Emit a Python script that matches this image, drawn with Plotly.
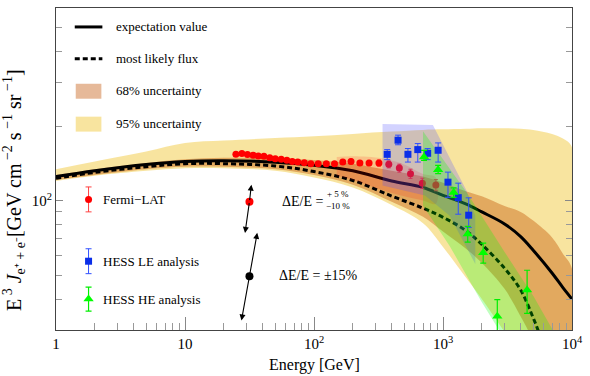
import math
import plotly.graph_objects as go

# ---------------- data ----------------
# model curves
expect_E = [1, 2, 5, 10, 20, 50, 100, 200, 400, 700, 1000, 1500, 2000, 3000, 4000, 5000, 7000, 8500, 10000]
expect_F = [125, 132, 140, 144, 145, 143, 139, 132, 120, 113, 105, 97, 90, 80.5, 71.5, 63, 51, 44.5, 40]

likely_E = [1, 2, 5, 10, 20, 50, 100, 200, 400, 700, 1000, 1500, 2000, 3000, 4000, 5000, 5500, 6000]
likely_F = [123, 130, 137, 141, 141, 138, 131, 120.6, 104.3, 93.2, 85.6, 75.7, 66.5, 53.3, 43.5, 33.6, 29.6, 26]

# 95% band
u95_E = [1, 2, 5, 10, 20, 50, 100, 200, 400, 700, 1000, 1500, 2000, 3000, 4000, 5000, 7000, 8500, 10000]
u95_F = [134, 144, 158, 171, 175, 179, 182, 186, 190, 193, 194, 195, 196, 196, 195, 193, 186, 178, 164]
l95_E = [1, 2, 5, 10, 20, 50, 100, 200, 400, 700, 1000, 1500, 2000, 3000, 4000, 10000]
l95_F = [120, 126, 132, 135, 135, 132, 124, 113, 96, 81, 65, 49, 40, 29.5, 24, 10]

# 68% band
u68_E = [1, 2, 5, 10, 20, 50, 100, 200, 400, 700, 1000, 1500, 2000, 3000, 4000, 5000, 7000, 8500, 10000]
u68_F = [127, 134, 142, 147, 149, 148, 146, 141, 132, 125, 118, 109, 104, 95, 90, 83, 71, 61, 53]
l68_E = [1, 2, 5, 10, 20, 50, 100, 200, 400, 700, 1000, 1500, 2000, 3000, 4000, 5000, 10000]
l68_F = [121, 127, 134, 137, 137, 134, 127, 116, 99, 86, 75, 64, 56, 44, 34, 27, 10]

# Fermi-LAT
fermi_E = [24.8, 27.6, 30.5, 33.7, 37.0, 40.9, 45.4, 50.1, 55.7, 61.6, 67.9, 74.8, 84.1, 94.5,
           107.7, 124.6, 144.2, 167.2, 193.6, 226.8, 267.2, 318.7, 379.9, 458.7, 559.8, 691.6, 880.4]
fermi_F = [153.8, 154.8, 153.4, 152.4, 151.4, 151.0, 149.1, 147.7, 146.8, 145.4, 144.0, 143.1, 142.3, 141.0,
           141.0, 141.0, 141.0, 143.1, 143.8, 141.8, 141.8, 141.8, 140.1, 135.3, 128.4, 117.6, 115.6]
fermi_err = [2, 2, 2, 2, 2, 2, 2, 2, 2, 2, 2, 2, 2, 2,
             2, 2.5, 2.5, 3, 3, 3, 3.5, 4, 4.5, 5, 5.5, 5.5, 6]

# Fermi systematic band
fband_E = [150, 200, 340, 500, 700, 880]
fband_hi = [150, 151, 148, 140, 128, 124]
fband_lo = [126, 121, 110, 104, 100, 97]

# HESS LE
hessle_E = [369.4, 448.3, 534.7, 637.6, 760.5, 916.7, 1093, 1313, 1582]
hessle_F = [153.8, 175.4, 153.8, 160.7, 155.3, 159.7, 118.7, 102.8, 87.3]
hessle_hi = [160.7, 183.8, 162.3, 170.0, 162.3, 171.0, 130.3, 117.6, 102.6]
hessle_lo = [146.4, 168.1, 143.1, 143.1, 146.4, 143.1, 103.1, 88.1, 77.9]
hessle_box_E = [340, 835, 1519, 1780, 1780, 1126, 725, 340]
hessle_box_F = [203.7, 201.8, 109.8, 86.9, 55.4, 86.9, 104.8, 115.1]

# HESS HE
hesshe_E = [712.6, 916.7, 1208.6, 1554.5, 2049.7, 2636, 4487]
hesshe_F = [150, 133.3, 107.8, 73.2, 61.6, 34.1, 43.5]
hesshe_hi = [159.6, 138.8, 112.6, 78.6, 67.3, 39.8, 52.3]
hesshe_lo = [145.4, 128.4, 103.1, 68.0, 55.9, 25, 35.0]
hesshe_box_E = [700, 1546, 2967, 5031, 7957, 3073, 1979, 1126, 700]
hesshe_box_F = [190.8, 106.8, 62.6, 41.1, 27, 27, 39.2, 65.6, 95.4]

# energy-scale arrows
arrow_E = [31.6, 31.6]
arrow_F = [99, 49.5]
arrow_top_E = [32.7, 36.3]
arrow_top_F = [116, 74.1]
arrow_bot_E = [29.2, 27.4]
arrow_bot_F = [74, 32.8]

x_ticks = [1, 10, 100, 1000, 10000]
x_ticktext = ["1", "10", "10<sup>2</sup>", "10<sup>3</sup>", "10<sup>4</sup>"]
y_ticks = [100]
y_ticktext = ["10<sup>2</sup>"]

# ---------------- styling ----------------
FONT = "Liberation Serif"
C95 = "rgba(242,205,80,0.55)"
C68 = "rgba(192,80,0,0.40)"
CFB = "rgba(255,0,0,0.15)"
CLE = "rgba(80,80,255,0.25)"
CHE = "rgba(0,255,0,0.25)"

L, R, T, B = 56, 579, 7, 330
W, H = 590, 376


def px(x):
    return (x - L) / (R - L)


def py(y):
    return (B - y) / (B - T)


fig = go.Figure()


def band(eu, fu, el, fl, color):
    return go.Scatter(x=list(eu) + list(el)[::-1], y=list(fu) + list(fl)[::-1],
                      fill="toself", fillcolor=color, line=dict(width=0, shape="spline"),
                      mode="lines", hoverinfo="skip", showlegend=False)


fig.add_trace(band(u95_E, u95_F, l95_E, l95_F, C95))
fig.add_trace(band(u68_E, u68_F, l68_E, l68_F, C68))

fig.add_trace(go.Scatter(x=expect_E, y=expect_F, mode="lines",
                         line=dict(color="black", width=3, shape="spline"), showlegend=False))
fig.add_trace(go.Scatter(x=likely_E, y=likely_F, mode="lines",
                         line=dict(color="black", width=3, dash="5px,3px", shape="spline"), showlegend=False))

fig.add_trace(go.Scatter(x=fermi_E, y=fermi_F, mode="markers",
                         marker=dict(color="#ff0000", size=7, symbol="circle"),
                         error_y=dict(type="data", array=fermi_err, color="#ff3030", thickness=1, width=2),
                         showlegend=False))

fig.add_trace(band(fband_E, fband_hi, fband_E, fband_lo, CFB))
fig.add_trace(go.Scatter(x=hessle_box_E, y=hessle_box_F, fill="toself", fillcolor=CLE,
                         mode="lines", line=dict(width=0), hoverinfo="skip", showlegend=False))
fig.add_trace(go.Scatter(x=hesshe_box_E, y=hesshe_box_F, fill="toself", fillcolor=CHE,
                         mode="lines", line=dict(width=0), hoverinfo="skip", showlegend=False))

fig.add_trace(go.Scatter(
    x=hessle_E, y=hessle_F, mode="markers",
    marker=dict(color="#0a2ee8", size=7, symbol="square"),
    error_y=dict(type="data", array=[h - f for h, f in zip(hessle_hi, hessle_F)],
                 arrayminus=[f - l for f, l in zip(hessle_F, hessle_lo)],
                 color="#3050ff", thickness=1, width=3),
    showlegend=False))
fig.add_trace(go.Scatter(
    x=hesshe_E, y=hesshe_F, mode="markers",
    marker=dict(color="#00ff00", size=9, symbol="triangle-up"),
    error_y=dict(type="data", array=[h - f for h, f in zip(hesshe_hi, hesshe_F)],
                 arrayminus=[f - l for f, l in zip(hesshe_F, hesshe_lo)],
                 color="#00ee00", thickness=1.2, width=3),
    showlegend=False))

# arrow dots
fig.add_trace(go.Scatter(x=arrow_E, y=arrow_F, mode="markers",
                         marker=dict(color=["#ff0000", "black"], size=8), showlegend=False))

for i in range(2):
    for (te, tf) in ((arrow_top_E[i], arrow_top_F[i]), (arrow_bot_E[i], arrow_bot_F[i])):
        fig.add_annotation(x=math.log10(te), y=math.log10(tf), ax=math.log10(arrow_E[i]),
                           ay=math.log10(arrow_F[i]), xref="x", yref="y", axref="x", ayref="y",
                           showarrow=True, arrowhead=2, arrowsize=1.1, arrowwidth=1.1,
                           arrowcolor="black", text="", standoff=0, startstandoff=0)

# ---------------- legend glyphs on a pixel overlay axis ----------------
fig.add_trace(go.Scatter(x=[75, 103], y=[26, 26], xaxis="x2", yaxis="y2", mode="lines",
                         line=dict(color="black", width=3), showlegend=False))
fig.add_trace(go.Scatter(x=[75, 103], y=[58, 58], xaxis="x2", yaxis="y2", mode="lines",
                         line=dict(color="black", width=3, dash="5px,3px"), showlegend=False))
fig.add_trace(go.Scatter(x=[89], y=[199], xaxis="x2", yaxis="y2", mode="markers",
                         marker=dict(color="#ff0000", size=7),
                         error_y=dict(type="data", array=[12.5], color="#ff4040", thickness=1, width=3),
                         showlegend=False))
fig.add_trace(go.Scatter(x=[89], y=[261], xaxis="x2", yaxis="y2", mode="markers",
                         marker=dict(color="#0a2ee8", size=7, symbol="square"),
                         error_y=dict(type="data", array=[12.5], color="#3050ff", thickness=1, width=3),
                         showlegend=False))
fig.add_trace(go.Scatter(x=[89], y=[299], xaxis="x2", yaxis="y2", mode="markers",
                         marker=dict(color="#00ff00", size=9, symbol="triangle-up"),
                         error_y=dict(type="data", array=[12], color="#00ee00", thickness=1.2, width=3),
                         showlegend=False))

shapes = [
    dict(type="rect", xref="x2", yref="y2", x0=76, x1=102, y0=83, y1=98, fillcolor=C68, line=dict(width=0)),
    dict(type="rect", xref="x2", yref="y2", x0=76, x1=102, y0=116, y1=131, fillcolor=C95, line=dict(width=0)),
]

font13 = dict(family=FONT, size=13, color="black")
font14 = dict(family=FONT, size=14, color="black")
texts = [
    (115, 26, "expectation value"),
    (115, 58, "most likely flux"),
    (115, 90, "68% uncertainty"),
    (115, 123, "95% uncertainty"),
    (102, 199, "Fermi\u2212LAT"),
    (102, 261, "HESS LE analysis"),
    (102, 299, "HESS HE analysis"),
]
for x, y, t in texts:
    fig.add_annotation(x=px(x), y=py(y), xref="paper", yref="paper", text=t, showarrow=False,
                       xanchor="left", yanchor="middle", font=font13)

fig.add_annotation(x=px(283), y=py(201), xref="paper", yref="paper", text="\u0394E/E =", showarrow=False,
                   xanchor="left", yanchor="middle", font=font14)
fig.add_annotation(x=px(329), y=py(194), xref="paper", yref="paper", text="+ 5 %", showarrow=False,
                   xanchor="left", yanchor="middle", font=dict(family=FONT, size=9, color="black"))
fig.add_annotation(x=px(328), y=py(206), xref="paper", yref="paper", text="\u221210 %", showarrow=False,
                   xanchor="left", yanchor="middle", font=dict(family=FONT, size=9, color="black"))
fig.add_annotation(x=px(280), y=py(275), xref="paper", yref="paper", text="\u0394E/E = \u00b115%",
                   showarrow=False, xanchor="left", yanchor="middle", font=font14)

# axis titles
fig.add_annotation(x=px(317.5), y=py(365), xref="paper", yref="paper", text="Energy [GeV]",
                   showarrow=False, xanchor="center", yanchor="middle",
                   font=dict(family=FONT, size=16, color="black"))
fig.add_annotation(x=px(14), y=py(190), xref="paper", yref="paper", textangle=-90,
                   text="E<sup> 3</sup> <i>J</i><sub>e\u207a + e\u207b</sub>[GeV cm<sup> \u22122</sup> s<sup> \u22121</sup> sr<sup> \u22121</sup>]",
                   showarrow=False, xanchor="center", yanchor="middle",
                   font=dict(family=FONT, size=20, color="black"))

x_minor = [m * d for d in (1, 10, 100, 1000) for m in range(2, 10)]
y_minor = [40, 50, 60, 70, 80, 90, 200, 300, 400, 500]

fig.update_layout(
    width=W, height=H,
    margin=dict(l=L, r=W - R, t=T, b=H - B),
    paper_bgcolor="white", plot_bgcolor="white",
    showlegend=False,
    shapes=shapes,
    xaxis=dict(type="log", range=[0, 4], showgrid=False, zeroline=False,
               showline=True, linecolor="#444", linewidth=1, mirror=True,
               tickmode="array", tickvals=x_ticks, ticktext=x_ticktext,
               ticks="inside", ticklen=13, tickcolor="#888", tickwidth=1,
               tickfont=dict(family=FONT, size=15, color="black"),
               minor=dict(tickmode="array", tickvals=x_minor, ticks="inside", ticklen=7,
                          tickcolor="#999", tickwidth=1, showgrid=False)),
    yaxis=dict(type="log", range=[math.log10(30), math.log10(600)], showgrid=False, zeroline=False,
               showline=True, linecolor="#444", linewidth=1, mirror="ticks",
               tickmode="array", tickvals=y_ticks, ticktext=y_ticktext,
               ticks="inside", ticklen=7, tickcolor="#888", tickwidth=1,
               tickfont=dict(family=FONT, size=15, color="black"),
               minor=dict(tickmode="array", tickvals=y_minor, ticks="inside", ticklen=6,
                          tickcolor="#999", tickwidth=1, showgrid=False)),
    xaxis2=dict(overlaying="x", range=[L, R], visible=False, anchor="y2"),
    yaxis2=dict(overlaying="y", range=[B, T], visible=False, anchor="x2"),
)

fig.write_html("out.html", config={"displayModeBar": False},
               post_script="document.body.style.margin='0';document.body.style.padding='0';")
